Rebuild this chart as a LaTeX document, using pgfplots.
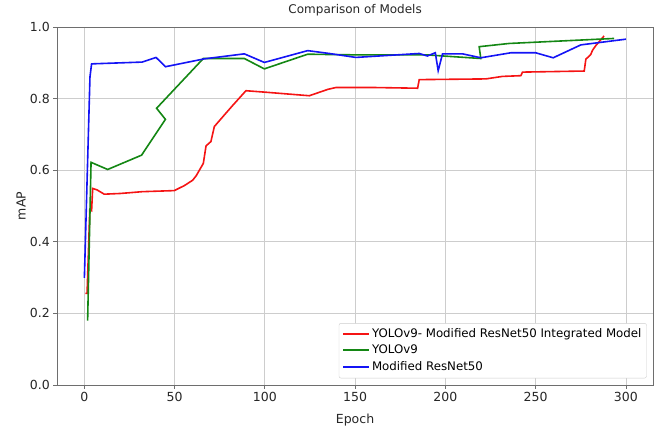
\documentclass[border=0pt]{standalone}
\usepackage{pgfplots}
\pgfplotsset{compat=1.18}
\usepackage{fontspec}
\setmainfont{DejaVu Sans}
\usetikzlibrary{calc}
\definecolor{mred}{RGB}{245,20,20}
\definecolor{mgreen}{RGB}{20,135,20}
\definecolor{mblue}{RGB}{20,20,245}
\definecolor{framegray}{RGB}{110,110,110}
\definecolor{gridgray}{RGB}{205,205,205}
\begin{document}
\begin{tikzpicture}
\begin{axis}[
  scale only axis,
  width=595.7pt, height=358pt,
  xmin=-15, xmax=315, ymin=0, ymax=1.0,
  xtick={0,50,100,150,200,250,300},
  ytick={0,0.2,0.4,0.6,0.8,1.0},
  yticklabel style={/pgf/number format/.cd,fixed,fixed zerofill,precision=1},
  /pgf/number format/assume math mode=true,
  tick label style={font=\fontsize{12.5}{14}\selectfont, text=black!85},
  tick align=outside, tick pos=left,
  major tick length=4pt,
  every tick/.style={framegray, line width=0.8pt},
  axis line style={framegray, line width=0.9pt},
  grid=major,
  major grid style={gridgray, line width=0.8pt},
  title={Comparison of Models},
  title style={font=\fontsize{12}{14}\selectfont, text=black!85, at={(rel axis cs:0.5,1.031)}, anchor=center, yshift=0pt},
  xlabel={Epoch},
  xlabel style={font=\fontsize{12.5}{14}\selectfont, text=black!85, at={(rel axis cs:0.4998,-0.097)}, anchor=center, yshift=0pt},
  ylabel={mAP},
  ylabel style={font=\fontsize{12.5}{14}\selectfont, text=black!85, at={(rel axis cs:-0.061,0.5)}, anchor=center, yshift=0pt},
  legend style={at={(rel axis cs:0.9894,0.0187)}, anchor=south east,
    font=\fontsize{11.8}{13}\selectfont, draw=gridgray, fill=white,
    row sep=0.6pt, inner xsep=3pt, inner ysep=2.5pt, rounded corners=2pt,
    nodes={text height=8.8pt, text depth=2.4pt, inner ysep=2.5pt}},
  legend cell align=left,
  legend image code/.code={\draw[#1, line width=2.1pt] (0pt,0.3pt) -- (26pt,0.3pt);},
  clip=false,
]
\addplot[mred, line width=1.6pt] coordinates {
(0.6,0.256) (1.5,0.256) (3,0.49) (4,0.487) (4.6,0.549) (7,0.545) (11,0.533) (20,0.535)
(32,0.54) (49.8,0.543) (55.4,0.557) (60,0.572) (62,0.585) (65.9,0.619) (67.4,0.668)
(70.1,0.68) (72,0.722) (77.5,0.754) (82,0.78) (89.5,0.822) (100,0.818) (124.6,0.808)
(135,0.826) (139.4,0.831) (160,0.831) (184.6,0.829) (185.5,0.853) (222.4,0.855)
(231.6,0.862) (241.8,0.864) (242.7,0.874) (276.9,0.877) (277.8,0.91) (280.5,0.923)
(281.5,0.935) (283.3,0.948) (287.9,0.975)
};
\addlegendentry{YOLOv9- Modified ResNet50 Integrated Model}
\addplot[mgreen, line width=1.6pt] coordinates {
(1.8,0.18) (3.7,0.622) (12.9,0.602) (31.7,0.642) (44.9,0.742) (40,0.773) (65.9,0.912)
(88.6,0.912) (99.7,0.883) (123.7,0.924) (152,0.922) (190,0.922) (219.6,0.912)
(218.7,0.945) (235.3,0.954) (293.5,0.968)
};
\addlegendentry{YOLOv9}
\addplot[mblue, line width=1.6pt] coordinates {
(0,0.299) (3.1,0.861) (4,0.897) (32,0.902) (39.7,0.915) (44.9,0.889) (66.4,0.911)
(88.6,0.925) (99.7,0.901) (123.7,0.934) (135.7,0.926) (150.4,0.915) (185.5,0.926)
(190,0.919) (194.4,0.928) (196,0.878) (198.4,0.925) (209.5,0.925) (219.6,0.914)
(236.2,0.928) (250,0.928) (259.7,0.914) (275,0.950) (300,0.966)
};
\addlegendentry{Modified ResNet50}
\end{axis}
\pgfresetboundingbox
\path[use as bounding box] ($(current axis.south west)+(-57.3pt,-43pt)$) rectangle ($(current axis.north east)+(3pt,27pt)$);
\end{tikzpicture}
\end{document}
